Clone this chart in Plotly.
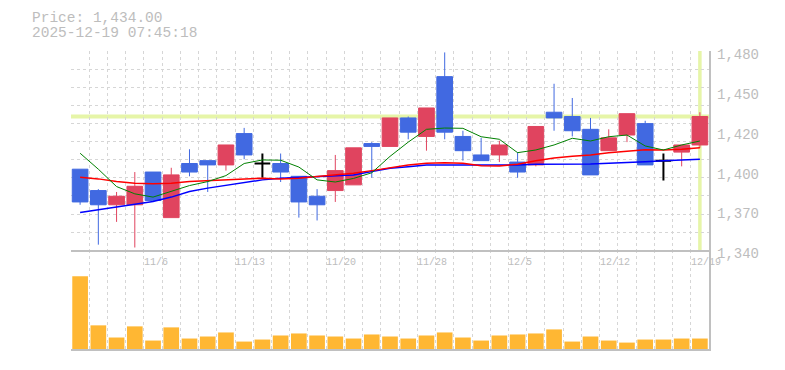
import plotly.graph_objects as go
import numpy as np

# ---------------- data ----------------
dates = ["10/30", "10/31", "11/4", "11/5", "11/6", "11/7", "11/10", "11/11", "11/12", "11/13",
         "11/14", "11/17", "11/18", "11/19", "11/20", "11/21", "11/25", "11/26", "11/27", "11/28",
         "12/1", "12/2", "12/3", "12/4", "12/5", "12/8", "12/9", "12/10", "12/11", "12/12",
         "12/15", "12/16", "12/17", "12/18", "12/19"]

open_ = [1397, 1382, 1372, 1372, 1395, 1363, 1401, 1403, 1400, 1422, 1401, 1401, 1392, 1378, 1382,
         1386, 1415, 1413, 1433, 1420, 1462, 1420, 1407, 1407, 1402, 1400, 1437, 1434, 1425, 1410,
         1421, 1429, 1403, 1409, 1414]
high = [1397, 1383, 1381, 1395, 1395, 1398, 1411, 1403, 1414, 1426, 1408, 1408, 1392, 1383, 1407,
        1412, 1416, 1433, 1434, 1440, 1479, 1424, 1419, 1417, 1409, 1427, 1457, 1447, 1433, 1425,
        1436, 1431, 1408, 1414, 1437]
low = [1372, 1344, 1360, 1342, 1375, 1363, 1392, 1381, 1396, 1404, 1391, 1388, 1363, 1361, 1374,
       1386, 1391, 1413, 1418, 1410, 1418, 1403, 1403, 1402, 1391, 1399, 1424, 1420, 1393, 1410,
       1416, 1400, 1389, 1399, 1412]
close = [1374, 1372, 1378, 1385, 1375, 1393, 1395, 1400, 1414, 1407, 1401, 1395, 1374, 1372, 1396,
         1412, 1413, 1433, 1423, 1440, 1423, 1410, 1403, 1414, 1395, 1427, 1433, 1424, 1393, 1419,
         1436, 1400, 1403, 1414, 1434]

ma_short = [1408.2, 1397.0, 1384.8, 1379.7, 1377.4, 1381.3, 1385.5, 1388.3, 1392.5, 1401.0,
            1403.5, 1403.3, 1398.5, 1389.5, 1388.0, 1390.5, 1394.5, 1406.0, 1416.0, 1425.0,
            1425.9, 1425.7, 1419.8, 1418.0, 1408.6, 1410.5, 1414.0, 1418.7, 1416.8, 1419.8,
            1421.0, 1413.3, 1410.5, 1414.0, 1416.8]
ma_mid = [1391.4, 1390.2, 1388.3, 1387.2, 1386.7, 1387.2, 1388.3, 1389.0, 1389.5, 1390.0,
          1390.7, 1390.2, 1390.7, 1391.8, 1393.0, 1394.2, 1396.0, 1398.1, 1400.0, 1401.2,
          1401.6, 1401.2, 1399.5, 1399.3, 1400.5, 1403.0, 1404.9, 1406.1, 1407.0, 1408.6,
          1409.8, 1410.7, 1410.5, 1411.0, 1412.1]
ma_long = [1366.6, 1368.5, 1370.1, 1372.0, 1374.3, 1377.4, 1381.3, 1383.7, 1385.5, 1387.6,
           1389.5, 1390.7, 1391.4, 1391.8, 1392.3, 1393.0, 1395.3, 1397.7, 1398.8, 1400.0,
           1400.0, 1400.0, 1399.5, 1399.5, 1400.0, 1400.5, 1400.5, 1400.5, 1400.7, 1401.2,
           1401.6, 1402.3, 1403.0, 1403.5, 1404.0]

volume = [21500, 7000, 3400, 6700, 2500, 6400, 3100, 3700, 4900, 2200, 2800, 4000, 4600, 4000, 3700,
          3100, 4300, 3700, 3100, 4000, 4900, 3400, 2500, 4000, 4300, 4600, 5800, 2200, 3700, 2500,
          1900, 2800, 2800, 3100, 3100]

date_labels = ["11/6", "11/13", "11/20", "11/28", "12/5", "12/12", "12/19"]
price_ticks = [1340, 1368, 1396, 1424, 1452, 1480]
current_price = 1434.00
timestamp = "2025-12-19 07:45:18"

# ---------------- styles ----------------
UP = "#e0445f"
DOWN = "#4169e1"
GRID = "#d6d6d6"
AXIS = "#c0c0c0"
TXT = "#bdbdbd"
MONO = "Liberation Mono, DejaVu Sans Mono, monospace"
HL = "#e6f5a8"
DASH = "3px,3px"

n = len(dates)
idx = list(range(n))
doji = [o == c for o, c in zip(open_, close)]
norm = [i for i in idx if not doji[i]]
dj = [i for i in idx if doji[i]]

fig = go.Figure()

fig.add_trace(go.Bar(x=idx, y=volume, marker=dict(color="#ffb733", line=dict(width=0)),
                     width=0.86, xaxis="x", yaxis="y", showlegend=False, hoverinfo="skip"))

fig.add_trace(go.Scatter(x=idx, y=ma_long, mode="lines", line=dict(color="#0000ff", width=1.5),
                         xaxis="x2", yaxis="y2", showlegend=False, hoverinfo="skip"))
fig.add_trace(go.Scatter(x=idx, y=ma_mid, mode="lines", line=dict(color="#ff0000", width=1.5),
                         xaxis="x2", yaxis="y2", showlegend=False, hoverinfo="skip"))
fig.add_trace(go.Scatter(x=idx, y=ma_short, mode="lines", line=dict(color="#008000", width=1),
                         xaxis="x2", yaxis="y2", showlegend=False, hoverinfo="skip"))

fig.add_trace(go.Candlestick(
    x=norm, open=[open_[i] for i in norm], high=[high[i] for i in norm],
    low=[low[i] for i in norm], close=[close[i] for i in norm],
    increasing=dict(line=dict(color=UP, width=1), fillcolor=UP),
    decreasing=dict(line=dict(color=DOWN, width=1), fillcolor=DOWN),
    whiskerwidth=0, xaxis="x2", yaxis="y2", showlegend=False, hoverinfo="skip"))
fig.add_trace(go.Candlestick(
    x=dj, open=[open_[i] for i in dj], high=[high[i] for i in dj],
    low=[low[i] for i in dj], close=[close[i] for i in dj],
    increasing=dict(line=dict(color="#000000", width=2), fillcolor="#000000"),
    decreasing=dict(line=dict(color="#000000", width=2), fillcolor="#000000"),
    whiskerwidth=0, xaxis="x2", yaxis="y2", showlegend=False, hoverinfo="skip"))

# current price lines
fig.add_shape(type="line", xref="x2 domain", yref="y2", x0=0, x1=1, y0=current_price, y1=current_price,
              line=dict(color=HL, width=4), layer="below")
fig.add_shape(type="line", xref="x2", yref="y2 domain", x0=idx[-1], x1=idx[-1], y0=0, y1=1,
              line=dict(color=HL, width=3.5), layer="below")

vol_top = 0.331
bounds = [i - 0.5 for i in range(n + 1)]
xcommon = dict(range=[-0.5, n - 0.5], tickmode="array", tickvals=bounds, showticklabels=False,
               showgrid=True, gridcolor=GRID, griddash=DASH, gridwidth=1, zeroline=False,
               ticks="", showline=True, linecolor=AXIS, linewidth=1.5, fixedrange=True)

grid_vals = list(np.linspace(price_ticks[0], price_ticks[-1], 12))

fig.update_layout(
    width=785, height=370,
    margin=dict(l=71, r=76, t=51, b=21, autoexpand=False),
    paper_bgcolor="white", plot_bgcolor="white",
    boxgap=0.14, boxgroupgap=0,
    xaxis=dict(**xcommon, anchor="y", domain=[0, 1], rangeslider=dict(visible=False)),
    xaxis2=dict(**xcommon, anchor="y2", matches="x", rangeslider=dict(visible=False)),
    yaxis=dict(domain=[0, vol_top], range=[0, 29200], showgrid=False, showticklabels=False,
               zeroline=False, side="right", showline=True, linecolor=AXIS, linewidth=1.5,
               ticks="", anchor="x", fixedrange=True),
    yaxis2=dict(domain=[vol_top, 1], range=[price_ticks[0], price_ticks[-1]], side="right",
                tickmode="array", tickvals=grid_vals, showticklabels=False, showgrid=True,
                gridcolor=GRID, griddash=DASH, gridwidth=1, zeroline=False, ticks="",
                showline=True, linecolor=AXIS, linewidth=1.5, anchor="x2", fixedrange=True),
    yaxis3=dict(overlaying="y2", range=[price_ticks[0], price_ticks[-1]], side="right",
                tickmode="array", tickvals=price_ticks,
                ticktext=[f"{round(v, -1):,.0f}" for v in price_ticks],
                showgrid=False, zeroline=False, ticks="", showline=False, anchor="x2",
                tickfont=dict(family=MONO, size=14, color=TXT), ticklabelstandoff=7,
                ticklabelshift=3, fixedrange=True),
    showlegend=False,
)
# invisible trace to activate yaxis3
fig.add_trace(go.Scatter(x=[idx[0]], y=[price_ticks[0]], mode="markers", marker=dict(opacity=0),
                         xaxis="x2", yaxis="y3", showlegend=False, hoverinfo="skip"))

for lab in date_labels:
    fig.add_annotation(x=dates.index(lab) - 0.5, y=(349 - 262) / 298, xref="x", yref="paper",
                       text=lab, showarrow=False, xanchor="left", yanchor="middle", xshift=-2,
                       font=dict(family=MONO, size=10, color=TXT))

fig.add_annotation(x=(30 - 71) / 638, y=(349 - 18) / 298, xref="paper", yref="paper",
                   text=f"Price: {current_price:,.2f}", showarrow=False, xanchor="left",
                   yanchor="middle", font=dict(family=MONO, size=14.5, color=TXT))
fig.add_annotation(x=(30 - 71) / 638, y=(349 - 33) / 298, xref="paper", yref="paper",
                   text=timestamp, showarrow=False, xanchor="left",
                   yanchor="middle", font=dict(family=MONO, size=14.5, color=TXT))

fig.write_html("out.html", config={"displayModeBar": False},
               post_script="document.body.style.margin='0px';")
